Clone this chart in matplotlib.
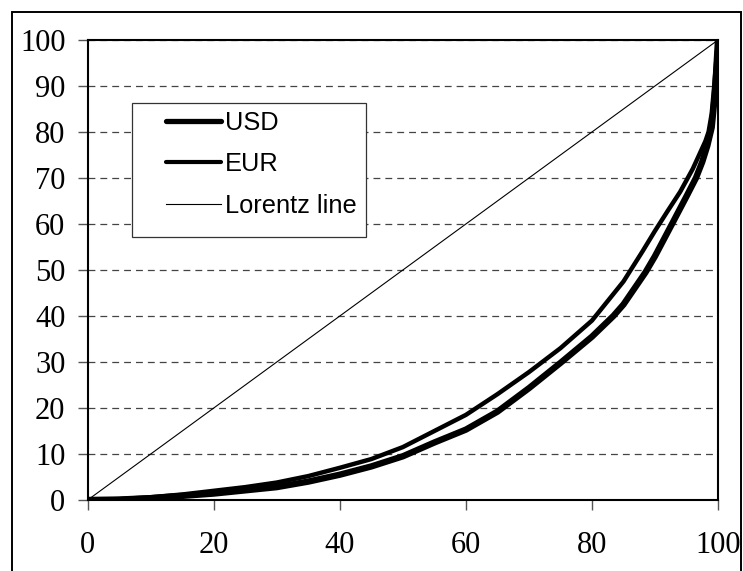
import matplotlib
matplotlib.use("Agg")
import matplotlib.pyplot as plt
from matplotlib.patches import Rectangle

# Data (cumulative share of population vs cumulative share of value, %)
eur_x = [0, 5, 10, 15, 20, 25, 30, 35, 40, 45, 50, 55, 60, 65, 70, 75, 80, 85, 88, 90, 92, 94, 95, 96, 97, 98, 98.5, 99, 99.4, 99.7, 100]
eur_y = [0, 0.2, 0.6, 1.2, 2.0, 2.8, 3.8, 5.2, 7.0, 8.9, 11.5, 15.0, 18.5, 23.0, 27.8, 33.0, 39.0, 47.5, 54.0, 58.5, 62.8, 67.0, 69.5, 72.0, 75.0, 78.0, 80.0, 84.0, 90.0, 95.0, 100]

usd_x = [0, 5, 10, 15, 20, 25, 30, 35, 40, 45, 50, 55, 60, 65, 70, 75, 80, 83.4, 85, 88.5, 90, 92.7, 95, 96.5, 97.5, 98.3, 99, 99.5, 100]
usd_y = [0, 0.1, 0.4, 0.9, 1.4, 2.1, 2.8, 4.0, 5.5, 7.3, 9.5, 12.5, 15.3, 19.2, 24.3, 29.8, 35.5, 40.0, 42.5, 49.5, 53.0, 60.0, 66.0, 70.0, 73.5, 77.0, 81.0, 88.0, 100]

lorentz_x = [0, 100]
lorentz_y = [0, 100]

x_ticks = [0, 20, 40, 60, 80, 100]
y_ticks = [0, 10, 20, 30, 40, 50, 60, 70, 80, 90, 100]

W, H = 743, 571
fig = plt.figure(figsize=(W / 100, H / 100), dpi=100)
fig.patch.set_facecolor("white")

# outer figure border
fig.patches.append(Rectangle((12 / W, -0.02), (741 - 12) / W, (H - 12) / H + 0.02,
                             transform=fig.transFigure, fill=False,
                             edgecolor="black", linewidth=1.4))

ax = fig.add_axes([87.7 / W, (H - 500) / H, (718 - 87.7) / W, (500 - 40) / H])

ax.plot(usd_x, usd_y, color="black", linewidth=4.6, label="USD",
        solid_capstyle="round", solid_joinstyle="round")
ax.plot(eur_x, eur_y, color="black", linewidth=3.2, label="EUR",
        solid_capstyle="round", solid_joinstyle="round")
ax.plot(lorentz_x, lorentz_y, color="black", linewidth=0.8, label="Lorentz line")

ax.set_xlim(0, 100)
ax.set_ylim(0, 100)
ax.set_xticks(x_ticks)
ax.set_yticks(y_ticks)

ax.yaxis.grid(True, linestyle=(0, (5.5, 4)), color="#444444", linewidth=0.9)
ax.set_axisbelow(True)

for s in ax.spines.values():
    s.set_linewidth(1.5)
    s.set_color("black")

serif = ["Liberation Serif", "DejaVu Serif"]
ax.tick_params(axis="both", direction="out", length=7, width=1.0, color="#555555",
               labelsize=22)
ax.tick_params(axis="x", pad=15)
ax.tick_params(axis="y", pad=9)
for lab in ax.get_xticklabels() + ax.get_yticklabels():
    lab.set_fontfamily(serif)

# legend frame (drawn separately to match the wide left padding)
box_l, box_t, box_r, box_b = 132, 103, 366, 237
frame_rect = Rectangle((box_l / W, 1 - box_b / H), (box_r - box_l) / W, (box_b - box_t) / H,
                       transform=fig.transFigure, facecolor="white",
                       edgecolor="#333333", linewidth=0.9, zorder=4)
ax.add_artist(frame_rect)
frame_rect.set_clip_on(False)

leg = ax.legend(loc="upper left", bbox_to_anchor=(166 / W, 1 - 111 / H),
                bbox_transform=fig.transFigure,
                prop={"family": ["Liberation Sans", "DejaVu Sans"], "size": 18.3},
                frameon=False,
                handlelength=2.15, handletextpad=0.18, labelspacing=0.68,
                borderpad=0, borderaxespad=0)
leg.set_zorder(5)
leg_lines = leg.get_lines()
leg_lines[0].set_linewidth(3.8)
leg_lines[1].set_linewidth(3.0)

fig.savefig("out.png", dpi=100, facecolor="white")
